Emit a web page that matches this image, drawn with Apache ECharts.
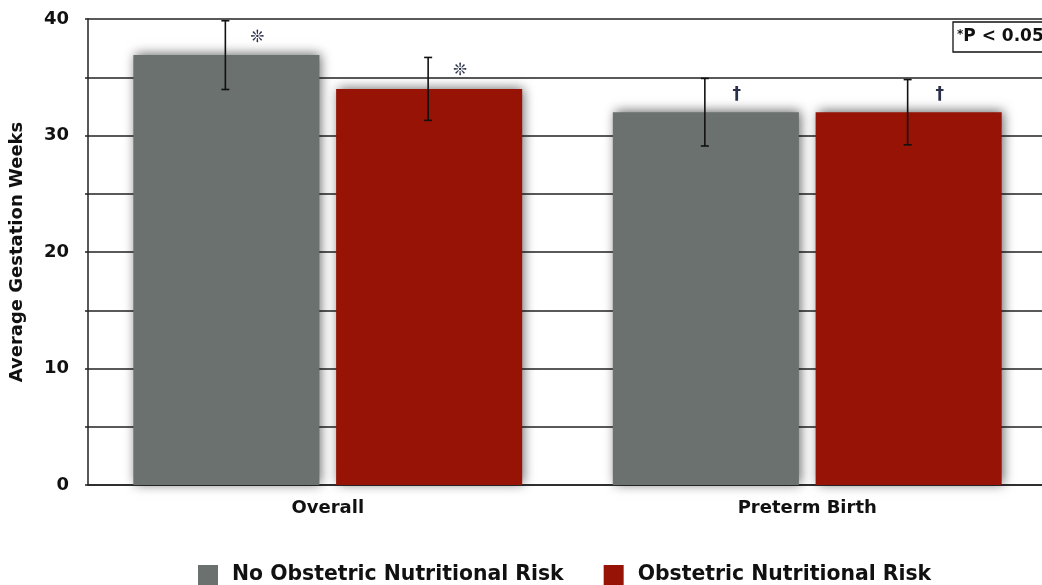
<!DOCTYPE html>
<html>
<head>
<meta charset="utf-8">
<script src="https://cdn.jsdelivr.net/npm/echarts@6/dist/echarts.min.js"></script>
<style>
  html, body { margin: 0; padding: 0; background: #fff; overflow: hidden; }
  #chart { width: 1052px; height: 585px; }
</style>
</head>
<body>
<div id="chart"></div>
<script>
// Average gestation weeks by obstetric nutritional risk
const categories = ['Overall', 'Preterm Birth'];
const seriesNames = ['No Obstetric Nutritional Risk', 'Obstetric Nutritional Risk'];
const noRiskMean = [36.9, 32.0];
const noRiskSD = [2.95, 2.9];
const riskMean = [34.0, 32.0];
const riskSD = [2.7, 2.8];
const sigSymbols = [['\u274A', '\u2020'], ['\u274A', '\u2020']];
const yTicks = [0, 10, 20, 30, 40];
const noteText = '*P < 0.05';

const COLORS = ['#6b716e', '#961306'];
const FONT = '"DejaVu Sans", "Liberation Sans", Arial, sans-serif';
const BAR_FRAC = 0.388;    // bar width as a share of the category band
const GAP_FRAC = 0.09;     // gap between paired bars, share of bar width

const means = [noRiskMean, riskMean];
const sds = [noRiskSD, riskSD];
const errData = [];
for (let s = 0; s < 2; s++) {
  for (let c = 0; c < categories.length; c++) {
    errData.push([c, s, means[s][c], sds[s][c]]);
  }
}

function renderErr(params, api) {
  const c = api.value(0), s = api.value(1), m = api.value(2), sd = api.value(3);
  const band = api.size([1, 0])[0];
  const barW = band * BAR_FRAC;
  const off = (s - 0.5) * (barW + barW * GAP_FRAC);
  const top = api.coord([c, m + sd]);
  const bot = api.coord([c, m - sd]);
  const barTop = api.coord([c, m]);
  const x = top[0] + off - 1;
  const cap = 4;
  const ls = { stroke: '#111', lineWidth: 1.6 };
  return {
    type: 'group',
    children: [
      { type: 'line', shape: { x1: x, y1: top[1], x2: x, y2: bot[1] }, style: ls },
      { type: 'line', shape: { x1: x - cap, y1: top[1], x2: x + cap, y2: top[1] }, style: ls },
      { type: 'line', shape: { x1: x - cap, y1: bot[1], x2: x + cap, y2: bot[1] }, style: ls },
      {
        type: 'text',
        style: {
          text: sigSymbols[s][c], x: x + 32, y: barTop[1] - 18,
          align: 'center', verticalAlign: 'middle',
          fill: '#2a3048', font: 'bold 17px "DejaVu Sans", sans-serif'
        }
      }
    ]
  };
}

const chart = echarts.init(document.getElementById('chart'));
chart.setOption({
  animation: false,
  backgroundColor: '#fff',
  grid: { left: 87, top: 19, width: 960, height: 466, containLabel: false },
  legend: {
    data: seriesNames,
    left: 193, top: 560,
    icon: 'rect', itemWidth: 20, itemHeight: 20, itemGap: 40,
    itemStyle: { shadowBlur: 0, shadowColor: 'transparent' },
    textStyle: { fontFamily: FONT, fontWeight: 'bold', fontSize: 20.4, color: '#111', padding: [2, 0, 0, 9] }
  },
  xAxis: {
    type: 'category',
    data: categories,
    axisLine: { lineStyle: { color: '#222', width: 1.5 } },
    axisTick: { show: false },
    axisLabel: { fontFamily: FONT, fontWeight: 'bold', fontSize: 18, color: '#111', margin: 14 }
  },
  yAxis: {
    type: 'value',
    min: 0, max: 40, interval: 5,
    name: 'Average Gestation Weeks',
    nameLocation: 'middle', nameGap: 62, nameRotate: 90,
    nameTextStyle: { fontFamily: FONT, fontWeight: 'bold', fontSize: 18, color: '#111' },
    axisLine: { show: true, lineStyle: { color: '#222', width: 1.5 } },
    axisTick: { show: true, length: 3, lineStyle: { color: '#222', width: 1.5 } },
    splitLine: { lineStyle: { color: '#222', width: 1.5 } },
    axisLabel: {
      fontFamily: FONT, fontWeight: 'bold', fontSize: 18, color: '#111', margin: 19,
      formatter: v => (yTicks.indexOf(v) >= 0 ? String(v) : '')
    }
  },
  series: [
    {
      name: seriesNames[0], type: 'bar', data: noRiskMean,
      barWidth: (BAR_FRAC * 100) + '%', barGap: (GAP_FRAC * 100) + '%',
      itemStyle: { color: COLORS[0], shadowBlur: 11, shadowColor: 'rgba(0,0,0,0.6)', shadowOffsetX: 2, shadowOffsetY: -1 },
      z: 2
    },
    {
      name: seriesNames[1], type: 'bar', data: riskMean,
      barWidth: (BAR_FRAC * 100) + '%', barGap: (GAP_FRAC * 100) + '%',
      itemStyle: { color: COLORS[1], shadowBlur: 11, shadowColor: 'rgba(0,0,0,0.6)', shadowOffsetX: 2, shadowOffsetY: -1 },
      z: 2
    },
    {
      type: 'custom', data: errData, renderItem: renderErr,
      encode: { x: 0, y: 2 }, z: 5, silent: true
    }
  ],
  graphic: [
    {
      type: 'rect', z: 10,
      shape: { x: 953, y: 22, width: 100, height: 30 },
      style: { fill: '#fff', stroke: '#111', lineWidth: 1.3 }
    },
    {
      type: 'text', z: 11,
      style: {
        text: '{s|*}{t|' + noteText.slice(1) + '}', x: 957, y: 37, verticalAlign: 'middle',
        rich: {
          s: { fontFamily: FONT, fontWeight: 'bold', fontSize: 12, fill: '#111', verticalAlign: 'top' },
          t: { fontFamily: FONT, fontWeight: 'bold', fontSize: 17, fill: '#111' }
        }
      }
    }
  ]
});
</script>
</body>
</html>
